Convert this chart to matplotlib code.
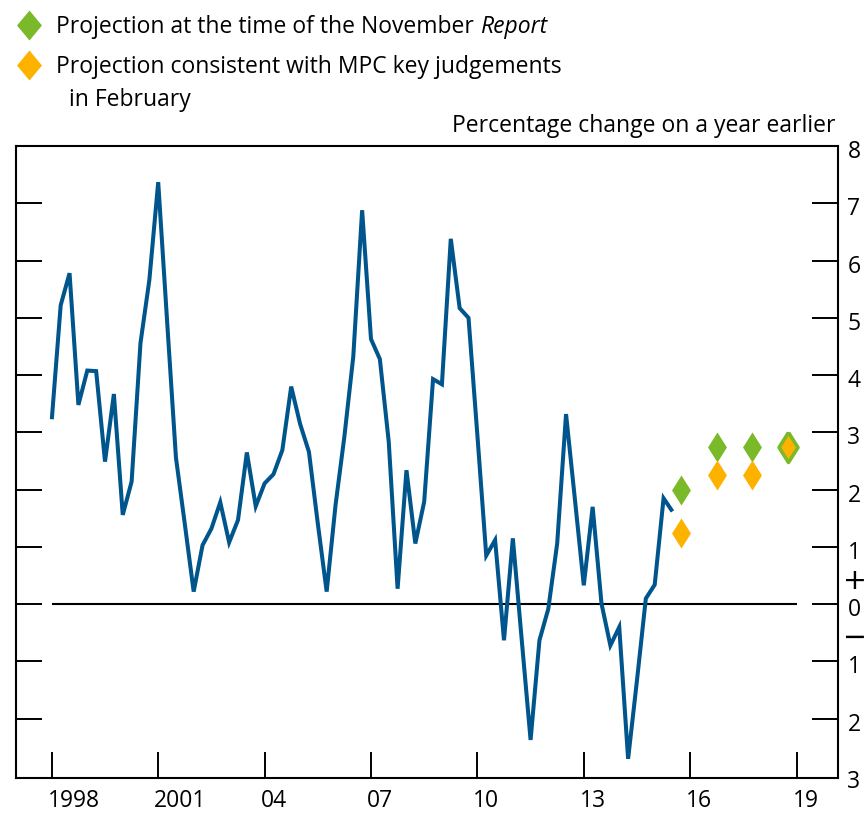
import numpy as np
import matplotlib
matplotlib.use('Agg')
import matplotlib.pyplot as plt
from matplotlib.lines import Line2D
from matplotlib.transforms import ScaledTranslation, blended_transform_factory

# ---------------- data ----------------
start_year = 1998  # first quarter of the series (1998 Q1)
growth = [3.23, 5.22, 5.78, 3.48, 4.08, 4.07, 2.49, 3.67, 1.56, 2.14,
          4.56, 5.66, 7.37, 4.95, 2.56, 1.40, 0.22, 1.03, 1.32, 1.78,
          1.08, 1.47, 2.65, 1.71, 2.11, 2.27, 2.69, 3.80, 3.15, 2.66,
          1.41, 0.22, 1.73, 2.93, 4.32, 6.88, 4.63, 4.28, 2.84, 0.27,
          2.34, 1.06, 1.79, 3.93, 3.84, 6.38, 5.17, 5.00, 2.95, 0.85,
          1.12, -0.63, 1.15, -0.62, -2.37, -0.63, -0.08, 1.06, 3.32, 1.83,
          0.33, 1.70, 0.01, -0.72, -0.40, -2.70, -1.33, 0.10, 0.34, 1.85,
          1.62]
proj_years = [2015.75, 2016.75, 2017.75, 2018.75]
proj_november = [2.00, 2.75, 2.75, 2.75]
proj_february = [1.25, 2.25, 2.25, 2.75]
xtick_years = [1998, 2001, 2004, 2007, 2010, 2013, 2016, 2019]
xtick_labels = ['1998', '2001', '04', '07', '10', '13', '16', '19']
ytick_values = list(range(-3, 9))
ytick_labels = [str(abs(v)) for v in ytick_values]
legend_november = ('Projection at the time of the November ', 'Report')
legend_february = ['Projection consistent with MPC key judgements', 'in February']
units_label = 'Percentage change on a year earlier'

# ---------------- style ----------------
BLUE = '#00558C'
GREEN = '#7AB929'
ORANGE = '#FDB200'
plt.rcParams['font.family'] = ['Open Sans', 'DejaVu Sans']
FS = 16.5
W, H = 868, 815

fig = plt.figure(figsize=(W / 100, H / 100), dpi=100)
ax = fig.add_axes([16 / W, 1 - 778.3 / H, (837.7 - 16) / W, (778.3 - 145.5) / H])

quarters = start_year + np.arange(len(growth)) / 4.0

thin_diamond = [(0, 1), (0.63, 0), (0, -1), (-0.63, 0), (0, 1)]
wide_diamond = [(0, 1), (0.83, 0), (0, -1), (-0.83, 0), (0, 1)]
MS = 21.6

ax.hlines(0, xtick_years[0], xtick_years[-1], color='black', lw=1.5, zorder=2)
ax.plot(quarters, growth, color=BLUE, lw=2.9, solid_joinstyle='miter',
        solid_capstyle='butt', zorder=3)

ax.plot(proj_years, proj_november, linestyle='none', marker=thin_diamond,
        ms=MS, mfc=GREEN, mec='none', zorder=4)
for xv, fv, nv in zip(proj_years, proj_february, proj_november):
    same = abs(fv - nv) < 1e-9
    ax.plot([xv], [fv], linestyle='none', marker=thin_diamond, ms=MS,
            mfc=ORANGE, mec=GREEN if same else 'none',
            mew=2.6 if same else 0, zorder=5)

ax.set_xlim(1996.99, 2020.16)
ax.set_ylim(-3.04, 8.01)

ax.set_xticks(xtick_years)
ax.set_xticklabels(xtick_labels)
ax.set_yticks(ytick_values)
ax.set_yticklabels(ytick_labels)

ax.tick_params(axis='y', which='both', direction='in', left=True, right=True,
               labelleft=False, labelright=True, length=18.7, width=1.4,
               pad=7, labelsize=FS, colors='black')
ax.tick_params(axis='x', which='both', direction='in', bottom=True, top=False,
               length=18.7, width=1.4, pad=8, labelsize=FS, colors='black')
for sp in ax.spines.values():
    sp.set_linewidth(1.5)
    sp.set_color('black')

yticks = ax.yaxis.get_major_ticks()
# the lowest tick coincides with the bottom frame
yticks[0].tick1line.set_visible(False)
yticks[0].tick2line.set_visible(False)
# shift right-hand labels slightly downwards as in the reference
for t in yticks:
    t.label2.set_transform(t.label2.get_transform() +
                           ScaledTranslation(0, -3 / 100, fig.dpi_scale_trans))
# year labels start at their tick
for t in ax.xaxis.get_major_ticks():
    t.label1.set_horizontalalignment('left')
    t.label1.set_transform(t.label1.get_transform() +
                           ScaledTranslation(-4 / 100, 0, fig.dpi_scale_trans))

# + / - signs around zero on the right-hand axis
bt = blended_transform_factory(fig.transFigure, ax.transData)
ax.text(855 / W, 0.40, '+', transform=bt, ha='center', va='center',
        fontsize=FS * 1.25, family='DejaVu Sans')
ax.text(855 / W, -0.58, '\u2212', transform=bt, ha='center', va='center',
        fontsize=FS * 1.25, family='DejaVu Sans')

# units label
fig.text(836 / W, 1 - 132.3 / H, units_label, ha='right', va='baseline', fontsize=FS)

# legend
fig.add_artist(Line2D([29 / W], [1 - 25 / H], transform=fig.transFigure,
                      marker=wide_diamond, ms=MS, mfc=GREEN, mec='none', linestyle='none'))
fig.add_artist(Line2D([29 / W], [1 - 65 / H], transform=fig.transFigure,
                      marker=wide_diamond, ms=MS, mfc=ORANGE, mec='none', linestyle='none'))

t1 = fig.text(56.5 / W, 1 - 33.3 / H, legend_november[0], ha='left', va='baseline', fontsize=FS)
fig.canvas.draw()
bb = t1.get_window_extent(fig.canvas.get_renderer())
fig.text(bb.x1 / W, 1 - 33.3 / H, legend_november[1], ha='left', va='baseline',
         fontsize=FS, style='italic')
fig.text(56.5 / W, 1 - 73.3 / H, legend_february[0], ha='left', va='baseline', fontsize=FS)
fig.text(69 / W, 1 - 106 / H, legend_february[1], ha='left', va='baseline', fontsize=FS)

fig.savefig('out.png', dpi=100)
